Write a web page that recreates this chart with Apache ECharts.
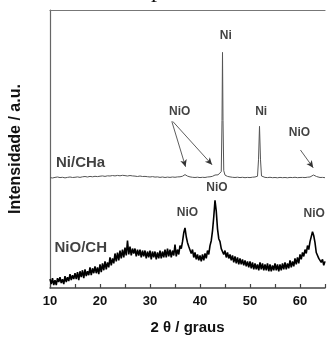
<!DOCTYPE html>
<html><head><meta charset="utf-8">
<script src="https://cdn.jsdelivr.net/npm/echarts@6/dist/echarts.min.js"></script>
<style>html,body{margin:0;padding:0;background:#fff}#c{width:328px;height:340px}</style>
</head><body><div id="c"></div>
<script>
// 2θ sampling grid of the noisy NiO/CH scan
const thetaStart = 10, thetaStep = 0.25;
// NiO/CH intensity (a.u.), one value per grid step, 10 → 65
const nioCH = [
 9,4,10,3, 8,3,10,6, 11,5,9,4, 12,6,11,7, 14,8,13,9,
 15,9,16,8, 17,11,18,10, 19,12,17,13, 21,13,20,15, 22,15,21,14,
 24,16,25,18, 27,19,26,21, 31,23,30,25, 35,27,36,28, 38,30,39,31,
 41,33,48,34, 42,33,40,35, 40,32,39,33, 39,31,38,32, 38,30,37,31,
 38,29,37,31, 37,29,36,30, 38,30,37,31, 39,31,40,32, 39,31,38,33,
 44,32,39,34, 43,40,47,56, 61,52,46,42, 41,35,39,31, 36,29,34,28,
 33,27,34,28, 35,30,38,34, 43,48,58,72, 89,78,60,50, 47,40,41,34,
 38,31,36,30, 34,28,33,26, 32,25,31,24, 30,24,29,23, 28,22,27,21,
 27,20,26,19, 25,19,24,18, 26,19,25,18, 24,18,25,17, 24,17,23,18,
 25,18,24,17, 24,18,25,19, 26,19,25,20, 28,21,27,22, 30,24,31,25,
 34,29,36,32, 39,35,43,39, 47,48,57,53, 46,36,34,30, 31,26,29,23,
 27
];
// Ni/CHa scan: [2θ, intensity]
const niCHa = [
 [10,112],[10.5,111.6],[11,112.2],[11.5,112.6],[12,112],[12.5,112.3],[13,111.7],[13.5,112.2],[14,112.6],[14.5,112.1],
 [15,112.3],[15.5,112.7],[16,112.2],[16.5,112.8],[17,113.1],[17.5,112.6],[18,113.2],[18.5,112.8],[19,113.3],[19.5,113],
 [20,113.4],[20.5,113.7],[21,113.2],[21.5,113.8],[22,113.6],[22.5,114.1],[23,113.7],[23.5,114.2],[24,113.8],[24.5,114.3],
 [25,114],[25.5,113.6],[26,114.1],[26.5,113.7],[27,113.5],[27.5,113.1],[28,113.6],[28.5,113.1],[29,113.2],[29.5,112.9],
 [30,112.6],[30.5,113],[31,112.5],[31.5,112.7],[32,112.2],[32.5,112.6],[33,112.1],[33.5,112.5],[34,112.2],[34.5,112.6],
 [35,112.3],[35.5,112.7],[36,112.8],[36.5,113.4],[36.75,114.2],[37,115],[37.25,114.3],[37.5,113.5],[38,112.7],[38.5,112.3],
 [39,112.1],[39.5,112.4],[40,112],[40.5,112.3],[41,112.1],[41.5,112.6],[42,112.8],[42.5,113.3],[43,114.6],[43.3,116],
 [43.6,114.8],[44,114.5],[44.25,118],[44.4,170],[44.5,239],[44.6,170],[44.75,119],[45,114.5],[45.5,113.2],[46,112.7],
 [46.5,112.3],[47,112.1],[47.5,112.4],[48,112],[48.5,112.3],[49,111.9],[49.5,112.2],[50,112],[50.5,112.4],[51,112.6],
 [51.5,113.4],[51.7,130],[51.9,164],[52.1,130],[52.3,113.6],[52.5,112.6],[53,112.2],[53.5,112],[54,112.3],[54.5,111.9],
 [55,112.1],[55.5,111.8],[56,112.2],[56.5,111.9],[57,112.1],[57.5,111.8],[58,112.2],[58.5,112],[59,112.3],[59.5,111.9],
 [60,112.1],[60.5,112.2],[61,112],[61.5,112.4],[62,112.6],[62.4,113.5],[62.7,114.6],[63,114.2],[63.3,113.1],[63.6,112.4],
 [64,112.1],[64.5,112.2],[65,111.9]
];
// x tick labels
const xTicks = [10,20,30,40,50,60];
// annotation texts and anchor positions [2θ, intensity, text, align]
const notes = [
 [45.16,256,'Ni','center'],
 [35.93,179,'NiO','center'],
 [52.23,179,'Ni','center'],
 [59.89,158,'NiO','center'],
 [11.2,127,'Ni/CHa','left'],
 [43.39,102,'NiO','center'],
 [37.5,76,'NiO','center'],
 [62.84,75,'NiO','center'],
 [10.9,41,'NiO/CH','left']
];
// arrows: [from 2θ, from I, to 2θ, to I]
const arrows = [
 [34.36,169,37.11,123],
 [34.55,169,42.41,125],
 [60.09,140,62.64,122]
];

const bottomData = nioCH.map((v,i)=>[thetaStart + i*thetaStep, v]);
const chart = echarts.init(document.getElementById('c'), null, {renderer:'canvas'});
const bigFont = 15;
chart.setOption({
  animation:false,
  backgroundColor:'#fff',
  grid:{left:48,right:0,top:10,bottom:48},
  graphic:[{type:'text',left:151,top:-21,style:{text:'p',font:'24px "Liberation Serif"',fill:'#111'}}],
  xAxis:[{
    type:'value',min:10,max:65,interval:5,
    axisLine:{lineStyle:{color:'#444',width:1.5}},
    axisTick:{inside:true,length:4,lineStyle:{color:'#444',width:1.2}},
    splitLine:{show:false},
    axisLabel:{margin:7,color:'#111',fontWeight:'bold',fontSize:13,fontFamily:'"Liberation Sans", Arial',
      formatter:v=> xTicks.indexOf(v)>=0 ? String(v) : ''},
    name:'2 θ / graus',nameLocation:'middle',nameGap:32,
    nameTextStyle:{color:'#111',fontWeight:'bold',fontSize:bigFont,fontFamily:'"Liberation Sans", Arial'}
  },{
    type:'value',position:'top',min:10,max:65,
    axisLine:{show:true,lineStyle:{color:'#777',width:1.2}},
    axisTick:{show:false},axisLabel:{show:false},splitLine:{show:false}
  }],
  yAxis:{
    type:'value',min:0,max:282,
    axisLine:{show:true,lineStyle:{color:'#666',width:1.2}},
    axisTick:{show:false},axisLabel:{show:false},splitLine:{show:false},
    name:'Intensidade / a.u.',nameLocation:'middle',nameGap:26,
    nameTextStyle:{color:'#111',fontWeight:'bold',fontSize:bigFont+1,fontFamily:'"Liberation Sans", Arial'}
  },
  series:[
    {type:'line',data:bottomData,showSymbol:false,sampling:null,
      lineStyle:{color:'#000',width:1.6},z:3},
    {type:'line',data:niCHa,showSymbol:false,
      lineStyle:{color:'#555',width:1},z:3,
      markLine:{silent:true,symbol:['none','arrow'],symbolSize:[5,7],
        lineStyle:{color:'#333',width:0.8,type:'solid'},label:{show:false},
        data:arrows.map(a=>[{coord:[a[0],a[1]]},{coord:[a[2],a[3]]}])}},
    {type:'scatter',symbolSize:0,z:5,
      data:notes.map(n=>({value:[n[0],n[1]],
        label:{show:true,position:'inside',formatter:n[2],align:n[3],verticalAlign:'middle',
          color:'#111',fontWeight:'bold',
          fontSize:(n[2].length>3?bigFont:12),fontFamily:'"Liberation Sans", Arial'}}))}
  ]
});
</script></body></html>
